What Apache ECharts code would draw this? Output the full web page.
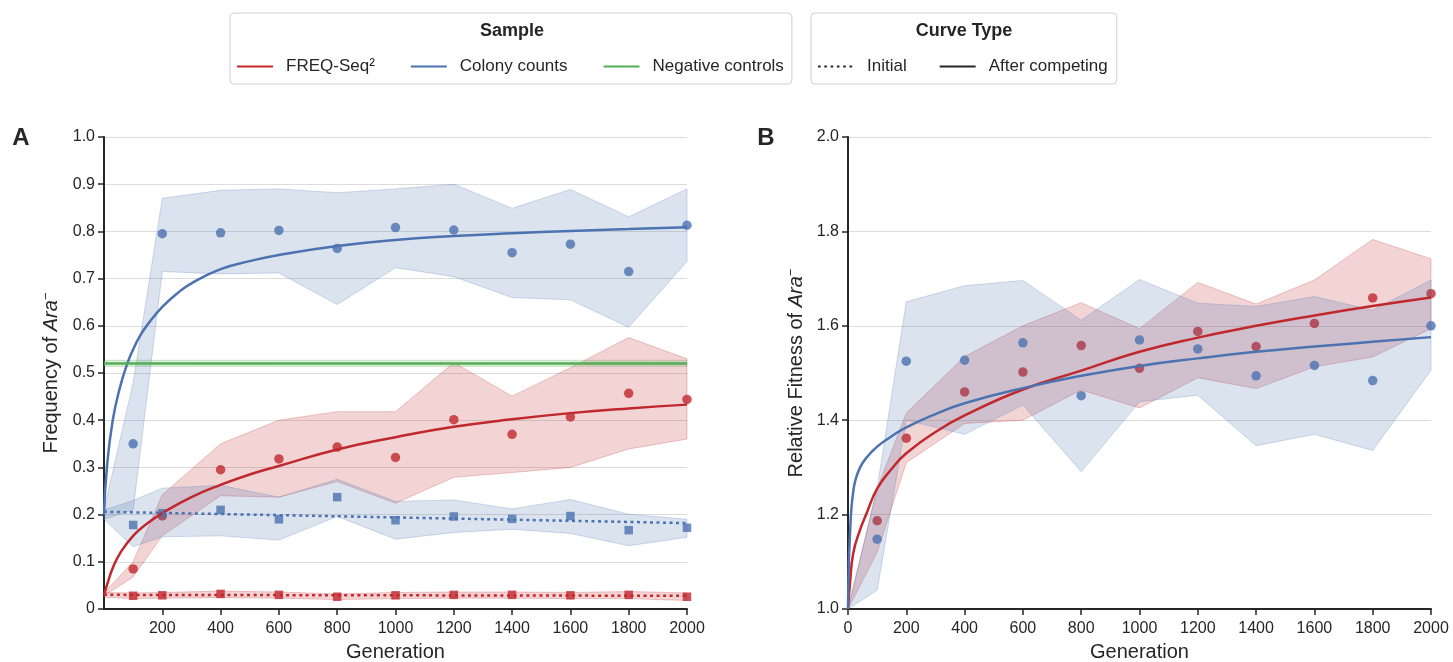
<!DOCTYPE html>
<html lang="en">
<head>
  <meta charset="UTF-8">
  <title>Ara- frequency and relative fitness</title>
  <script src="https://cdn.jsdelivr.net/npm/echarts@6/dist/echarts.min.js"></script>
  <style>
    html, body { margin: 0; padding: 0; background: #fff; }
    #chart { width: 1453px; height: 662px; }
  </style>
</head>
<body>
  <div id="chart"></div>
  <script>
    // generations where bands are sampled / where points sit
    const bandGens = [0, 100, 200, 400, 600, 800, 1000, 1200, 1400, 1600, 1800, 2000];
    const ptGens = [100, 200, 400, 600, 800, 1000, 1200, 1400, 1600, 1800, 2000];
    // panel A has no tick / label at 0
    const tickGensA = [200, 400, 600, 800, 1000, 1200, 1400, 1600, 1800, 2000];

    // Panel A - frequency of Ara-
    const colonyAfterPts = [0.35, 0.795, 0.797, 0.802, 0.764, 0.808, 0.803, 0.755, 0.773, 0.715, 0.813];
    const colonyAfterLo = [0.19, 0.21, 0.715, 0.71, 0.712, 0.645, 0.723, 0.704, 0.66, 0.655, 0.597, 0.736];
    const colonyAfterHi = [0.21, 0.48, 0.87, 0.887, 0.89, 0.882, 0.89, 0.90, 0.849, 0.889, 0.831, 0.89];
    const colonyInitPts = [0.178, 0.203, 0.21, 0.19, 0.237, 0.188, 0.196, 0.191, 0.197, 0.167, 0.172];
    const colonyInitLo = [0.19, 0.132, 0.153, 0.155, 0.146, 0.196, 0.148, 0.162, 0.169, 0.16, 0.134, 0.152];
    const colonyInitHi = [0.21, 0.23, 0.256, 0.262, 0.237, 0.275, 0.228, 0.231, 0.212, 0.232, 0.201, 0.19];
    const freqAfterPts = [0.085, 0.197, 0.295, 0.318, 0.343, 0.321, 0.401, 0.37, 0.407, 0.457, 0.444];
    const freqAfterLo = [0.028, 0.068, 0.155, 0.24, 0.237, 0.27, 0.224, 0.279, 0.289, 0.3, 0.339, 0.36];
    const freqAfterHi = [0.034, 0.1, 0.242, 0.35, 0.4, 0.418, 0.418, 0.522, 0.451, 0.511, 0.575, 0.53];
    const freqInitPts = [0.028, 0.029, 0.032, 0.030, 0.026, 0.029, 0.030, 0.030, 0.029, 0.030, 0.026];
    const freqInitLo = [0.025, 0.022, 0.023, 0.024, 0.023, 0.02, 0.022, 0.023, 0.023, 0.022, 0.022, 0.018];
    const freqInitHi = [0.035, 0.034, 0.035, 0.038, 0.036, 0.032, 0.035, 0.036, 0.036, 0.035, 0.037, 0.034];
    const negGens = [0, 2000];
    const negMean = [0.52, 0.52];
    const negLo = [0.514, 0.514];
    const negHi = [0.527, 0.527];

    // fitted curves, panel A
    const colonyFitGensA = [0, 10, 30, 55, 80, 100, 125, 150, 200, 250, 300, 400, 500, 600, 800, 1000, 1200, 1400, 1600, 1800, 2000];
    const colonyFitA = [0.2, 0.3, 0.4, 0.47, 0.52, 0.55, 0.58, 0.603, 0.64, 0.668, 0.69, 0.72, 0.737, 0.75, 0.769, 0.782, 0.79, 0.796, 0.801, 0.805, 0.809];
    const freqFitGensA = [0, 15, 30, 55, 100, 150, 200, 300, 400, 500, 600, 800, 1000, 1200, 1400, 1600, 1800, 2000];
    const freqFitA = [0.03, 0.06, 0.087, 0.118, 0.155, 0.182, 0.203, 0.237, 0.263, 0.285, 0.303, 0.338, 0.364, 0.386, 0.402, 0.415, 0.425, 0.433];
    const initGens = [0, 500, 1000, 1500, 2000];
    const colonyInitFit = [0.206, 0.2, 0.194, 0.188, 0.182];
    const freqInitFit = [0.030, 0.0295, 0.029, 0.0285, 0.028];

    // Panel B - relative fitness of Ara-
    const colonyRelPts = [1.148, 1.525, 1.527, 1.564, 1.452, 1.57, 1.551, 1.494, 1.516, 1.484, 1.6];
    const colonyRelLo = [1.0, 1.04, 1.40, 1.37, 1.432, 1.291, 1.439, 1.453, 1.346, 1.37, 1.336, 1.506];
    const colonyRelHi = [1.0, 1.256, 1.651, 1.685, 1.696, 1.612, 1.698, 1.648, 1.641, 1.662, 1.633, 1.697];
    const freqRelPts = [1.187, 1.362, 1.46, 1.502, 1.558, 1.51, 1.588, 1.556, 1.605, 1.659, 1.668];
    const freqRelLo = [1.0, 1.12, 1.31, 1.393, 1.40, 1.464, 1.426, 1.49, 1.467, 1.513, 1.534, 1.594];
    const freqRelHi = [1.0, 1.255, 1.415, 1.535, 1.60, 1.649, 1.594, 1.692, 1.646, 1.697, 1.783, 1.742];
    const colonyFitGensB = [0, 3, 7, 12, 18, 25, 40, 60, 100, 150, 200, 300, 400, 600, 800, 1000, 1200, 1400, 1600, 1800, 2000];
    const colonyFitB = [1.0, 1.1, 1.16, 1.215, 1.248, 1.272, 1.298, 1.318, 1.344, 1.366, 1.385, 1.413, 1.436, 1.468, 1.494, 1.515, 1.531, 1.545, 1.556, 1.566, 1.576];
    const freqFitGensB = [0, 7, 18, 41, 64, 100, 150, 200, 300, 400, 600, 800, 1000, 1200, 1400, 1600, 1800, 2000];
    const freqFitB = [1.0, 1.055, 1.118, 1.167, 1.203, 1.255, 1.297, 1.33, 1.375, 1.41, 1.465, 1.505, 1.545, 1.575, 1.6, 1.622, 1.642, 1.66];

    const RED = '#c0282e';
    const BLUE = '#4c72b0';
    const GREEN = '#55ad55';
    const INK = '#262626';
    const FONT = '"Liberation Sans", Arial, sans-serif';

    function pairs(xs, ys) {
      return xs.map((x, i) => [x, ys[i]]);
    }

    // shaded band: one polygon through the upper values and back along the lower ones
    function band(ax, xs, lo, hi, color, z) {
      return {
        type: 'custom', xAxisIndex: ax, yAxisIndex: ax, z: z, silent: true,
        data: xs.map((x, i) => [x, lo[i], hi[i]]),
        encode: { x: 0, y: [1, 2] },
        renderItem: function (params, api) {
          if (params.dataIndex !== 0) return null;
          const pts = [];
          xs.forEach((x, i) => pts.push(api.coord([x, hi[i]])));
          for (let i = xs.length - 1; i >= 0; i--) pts.push(api.coord([xs[i], lo[i]]));
          return {
            type: 'polygon',
            shape: { points: pts },
            style: { fill: color, opacity: 1, fillOpacity: 0.2, stroke: color, strokeOpacity: 0.25, lineWidth: 1 }
          };
        }
      };
    }

    function curve(ax, name, xs, ys, color, dotted, z) {
      return {
        name: name, type: 'line', xAxisIndex: ax, yAxisIndex: ax, data: pairs(xs, ys),
        smooth: 0.5, symbol: 'none', z: z, silent: true,
        itemStyle: { color: color },
        lineStyle: { color: color, width: 2.5, type: dotted ? [3, 3.5] : 'solid' }
      };
    }

    function points(ax, ys, color, shape, z) {
      return {
        type: 'scatter', xAxisIndex: ax, yAxisIndex: ax, data: pairs(ptGens, ys),
        symbol: shape, symbolSize: shape === 'rect' ? 8.5 : 9.5, z: z, silent: true,
        itemStyle: { color: color }
      };
    }

    // legend icons: line of 36px inside a 44x14 box so the text sits further right
    const solidIcon = 'path://M0,-7M44,7M0,-1h36v2h-36z';
    let dots = 'path://M0,-7M44,7';
    for (let i = 0; i < 6; i++) dots += 'M' + (i * 6.3) + ',-1h2.6v2h-2.6z';

    const series = [
      // named curves first so legend picks them up
      curve(0, 'FREQ-Seq²', freqFitGensA, freqFitA, RED, false, 10),
      curve(0, 'Colony counts', colonyFitGensA, colonyFitA, BLUE, false, 10),
      curve(0, 'Negative controls', negGens, negMean, GREEN, false, 10),
      curve(0, 'FREQ-Seq²', initGens, freqInitFit, RED, true, 10),
      curve(0, 'Colony counts', initGens, colonyInitFit, BLUE, true, 10),
      curve(1, 'FREQ-Seq²', freqFitGensB, freqFitB, RED, false, 10),
      curve(1, 'Colony counts', colonyFitGensB, colonyFitB, BLUE, false, 10),
      { name: 'Initial', type: 'line', data: [], itemStyle: { color: INK }, lineStyle: { color: INK } },
      { name: 'After competing', type: 'line', data: [], itemStyle: { color: INK }, lineStyle: { color: INK } },

      // panel A
      points(0, freqAfterPts, RED, 'circle', 2),
      points(0, freqInitPts, RED, 'rect', 2),
      band(0, bandGens, freqAfterLo, freqAfterHi, RED, 3),
      band(0, bandGens, freqInitLo, freqInitHi, RED, 3),
      points(0, colonyAfterPts, BLUE, 'circle', 4),
      points(0, colonyInitPts, BLUE, 'rect', 4),
      band(0, bandGens, colonyAfterLo, colonyAfterHi, BLUE, 5),
      band(0, bandGens, colonyInitLo, colonyInitHi, BLUE, 5),
      band(0, negGens, negLo, negHi, GREEN, 5),

      // panel B
      points(1, freqRelPts, RED, 'circle', 2),
      band(1, bandGens, freqRelLo, freqRelHi, RED, 3),
      points(1, colonyRelPts, BLUE, 'circle', 4),
      band(1, bandGens, colonyRelLo, colonyRelHi, BLUE, 5)
    ];

    function xAxis(idx, ticks) {
      const ax = {
        type: 'value', gridIndex: idx, min: 0, max: 2000, interval: 200,
        name: 'Generation', nameLocation: 'middle', nameGap: 33,
        nameTextStyle: { fontSize: 20, color: INK },
        axisLine: { onZero: false, lineStyle: { color: INK, width: 2 } },
        axisTick: { length: 6, lineStyle: { color: INK, width: 1.5 } },
        axisLabel: { fontSize: 16, color: INK, margin: 12, formatter: v => String(v) },
        splitLine: { show: false }
      };
      if (ticks) {
        ax.axisTick.customValues = ticks;
        ax.axisLabel.customValues = ticks;
      }
      return ax;
    }

    function yAxis(idx, name, min, max, step, zeroText, gap) {
      return {
        type: 'value', gridIndex: idx, min: min, max: max, interval: step,
        name: name, nameLocation: 'middle', nameGap: gap,
        nameTextStyle: {
          fontSize: 20, color: INK,
          rich: {
            i: { fontSize: 20, fontStyle: 'italic', color: INK },
            s: { fontSize: 13, color: INK, verticalAlign: 'top', padding: [0, 0, 9, 0] }
          }
        },
        axisLine: { onZero: false, lineStyle: { color: INK, width: 2 } },
        axisTick: { length: 6, lineStyle: { color: INK, width: 1.5 } },
        axisLabel: { fontSize: 16, color: INK, margin: 9,
          formatter: v => (zeroText && v === 0) ? '0' : v.toFixed(1) },
        splitLine: { show: true, lineStyle: { color: '#dcdcdc', width: 1 } }
      };
    }

    const legendBase = {
      orient: 'horizontal', top: 13, itemWidth: 44, itemHeight: 14,
      borderColor: '#d0d0d0', borderWidth: 1, borderRadius: 4,
      textStyle: { fontSize: 17, color: INK, fontFamily: FONT },
      itemStyle: { borderWidth: 0 },
      selectedMode: false
    };

    const option = {
      animation: false,
      backgroundColor: '#fff',
      textStyle: { fontFamily: FONT },
      grid: [
        { left: 104, right: 766, top: 137, bottom: 53, outerBoundsMode: 'none', containLabel: false },
        { left: 848, right: 22, top: 137, bottom: 53, outerBoundsMode: 'none', containLabel: false }
      ],
      xAxis: [xAxis(0, tickGensA), xAxis(1, null)],
      yAxis: [
        yAxis(0, 'Frequency of {i|Ara}{s|−}', 0, 1, 0.1, true, 42),
        yAxis(1, 'Relative Fitness of {i|Ara}{s|−}', 1, 2, 0.2, false, 41)
      ],
      legend: [
        Object.assign({}, legendBase, {
          left: 230, padding: [45, 8, 9, 7], itemGap: 36,
          data: [
            { name: 'FREQ-Seq²', icon: solidIcon },
            { name: 'Colony counts', icon: solidIcon },
            { name: 'Negative controls', icon: solidIcon }
          ]
        }),
        Object.assign({}, legendBase, {
          left: 811, padding: [45, 9, 9, 7], itemGap: 33,
          data: [
            { name: 'Initial', icon: dots },
            { name: 'After competing', icon: solidIcon }
          ]
        })
      ],
      graphic: [
        { type: 'text', x: 512, y: 31, style: { text: 'Sample', fill: INK, font: 'bold 18px ' + FONT, textAlign: 'center', textVerticalAlign: 'middle' } },
        { type: 'text', x: 964, y: 31, style: { text: 'Curve Type', fill: INK, font: 'bold 18px ' + FONT, textAlign: 'center', textVerticalAlign: 'middle' } },
        { type: 'text', x: 21, y: 138, style: { text: 'A', fill: INK, font: 'bold 24px ' + FONT, textAlign: 'center', textVerticalAlign: 'middle' } },
        { type: 'text', x: 766, y: 138, style: { text: 'B', fill: INK, font: 'bold 24px ' + FONT, textAlign: 'center', textVerticalAlign: 'middle' } }
      ],
      series: series
    };

    const chart = echarts.init(document.getElementById('chart'));
    chart.setOption(option);
  </script>
</body>
</html>
